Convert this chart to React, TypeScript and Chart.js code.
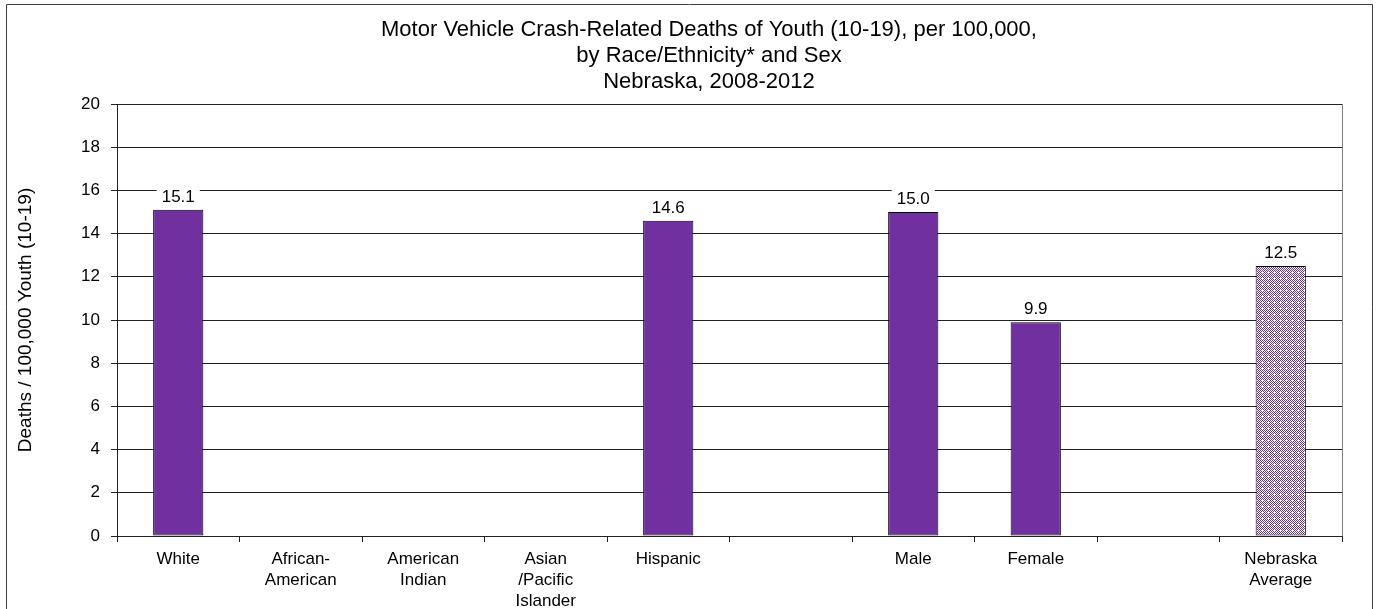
import React, { useEffect, useRef } from "react";
import { Chart, registerables } from "chart.js";

Chart.register(...registerables);

const categories: (string | string[])[] = [
  "White",
  ["African-", "American"],
  ["American", "Indian"],
  ["Asian", "/Pacific", "Islander"],
  "Hispanic",
  "",
  "Male",
  "Female",
  "",
  ["Nebraska", "Average"],
];
const values: (number | null)[] = [15.1, null, null, null, 14.6, null, 15.0, 9.9, null, 12.5];
const averageIndex = 9;
const yTicks = { min: 0, max: 20, step: 2 };
const titleLines = [
  "Motor Vehicle Crash-Related Deaths of Youth (10-19), per 100,000,",
  "by Race/Ethnicity* and Sex",
  "Nebraska, 2008-2012",
];
const yTitle = "Deaths / 100,000 Youth (10-19)";

const PURPLE = "#7030A0";
const FONT = "'Liberation Sans', Arial, sans-serif";

function makePattern(ctx: CanvasRenderingContext2D): CanvasPattern | string {
  const c = document.createElement("canvas");
  c.width = 6;
  c.height = 6;
  const p = c.getContext("2d");
  if (!p) return PURPLE;
  p.fillStyle = "#ffffff";
  p.fillRect(0, 0, 6, 6);
  p.fillStyle = PURPLE;
  for (let y = 0; y < 6; y++) {
    for (let x = 0; x < 6; x++) {
      if ((x + y) % 2 === 0) p.fillRect(x, y, 1, 1);
    }
  }
  p.fillStyle = "#ffffff";
  p.fillRect(2, 2, 1, 1);
  const pat = ctx.createPattern(c, "repeat");
  return pat || PURPLE;
}

const titlePlugin = {
  id: "customTitle",
  afterDraw(chart: any) {
    const ctx = chart.ctx;
    ctx.save();
    ctx.font = `22px ${FONT}`;
    ctx.fillStyle = "#000000";
    ctx.textAlign = "center";
    ctx.textBaseline = "alphabetic";
    const cx = 709;
    titleLines.forEach((line, i) => {
      ctx.fillText(line, cx, 36 + i * 26);
    });
    ctx.restore();
  },
};

const labelPlugin = {
  id: "valueLabels",
  afterDatasetsDraw(chart: any) {
    const ctx = chart.ctx;
    const meta = chart.getDatasetMeta(0);
    ctx.save();
    ctx.font = `17px ${FONT}`;
    ctx.textAlign = "center";
    ctx.textBaseline = "alphabetic";
    meta.data.forEach((el: any, i: number) => {
      const v = values[i];
      if (v === null || v === undefined) return;
      const txt = v.toFixed(1);
      const w = ctx.measureText(txt).width;
      const by = el.y - 8;
      ctx.fillStyle = "#ffffff";
      ctx.fillRect(el.x - w / 2 - 5, by - 16, w + 10, 19);
      ctx.fillStyle = "#000000";
      ctx.fillText(txt, el.x, by);
    });
    ctx.restore();
  },
};

const framePlugin = {
  id: "frame",
  afterDraw(chart: any) {
    const ctx = chart.ctx;
    const a = chart.chartArea;
    ctx.save();
    ctx.lineWidth = 1;
    ctx.strokeStyle = "#808080";
    ctx.beginPath();
    ctx.moveTo(Math.round(a.right) + 0.5, a.top);
    ctx.lineTo(Math.round(a.right) + 0.5, a.bottom);
    ctx.stroke();
    ctx.strokeStyle = "#404040";
    ctx.beginPath();
    ctx.moveTo(6.5, chart.height + 2);
    ctx.lineTo(6.5, 4.5);
    ctx.lineTo(chart.width - 3.5, 4.5);
    ctx.lineTo(chart.width - 3.5, chart.height + 2);
    ctx.stroke();
    ctx.restore();
  },
};

export default function App() {
  const ref = useRef<HTMLCanvasElement | null>(null);

  useEffect(() => {
    const canvas = ref.current;
    if (!canvas) return;
    const ctx = canvas.getContext("2d");
    if (!ctx) return;
    const pattern = makePattern(ctx);
    const colors = values.map((_, i) => (i === averageIndex ? pattern : PURPLE));

    const chart = new Chart(ctx, {
      type: "bar",
      data: {
        labels: categories as any,
        datasets: [
          {
            data: values as any,
            backgroundColor: colors as any,
            borderColor: "#000000",
            borderWidth: 1,
            borderSkipped: false,
            barPercentage: 0.41,
            categoryPercentage: 1,
          },
        ],
      },
      options: {
        animation: false,
        responsive: false,
        layout: { padding: { left: 10, right: 34, top: 104, bottom: 0 } },
        plugins: {
          legend: { display: false },
          tooltip: { enabled: false },
          title: { display: false },
        },
        scales: {
          x: {
            grid: {
              display: true,
              drawOnChartArea: false,
              drawTicks: true,
              tickLength: 6,
              color: "#222222",
              offset: true,
            },
            border: { display: true, color: "#222222" },
            ticks: {
              color: "#000000",
              font: { family: FONT, size: 17, lineHeight: 1.22 },
              padding: 7,
              maxRotation: 0,
              autoSkip: false,
            },
            afterFit: (s: any) => {
              s.height = 73;
            },
          },
          y: {
            min: yTicks.min,
            max: yTicks.max,
            ticks: {
              stepSize: yTicks.step,
              color: "#000000",
              font: { family: FONT, size: 17 },
              padding: 11,
            },
            grid: { color: "#222222", tickLength: 6 },
            border: { display: true, color: "#222222" },
            title: {
              display: true,
              text: yTitle,
              color: "#000000",
              font: { family: FONT, size: 19, lineHeight: 1.2 },
              padding: { top: 4, bottom: 4 },
            },
            afterFit: (s: any) => {
              s.width = 107;
            },
          },
        },
      },
      plugins: [labelPlugin, framePlugin, titlePlugin],
    });
    return () => chart.destroy();
  }, []);

  return (
    <div style={{ position: "fixed", left: 0, top: 0, width: 1376, height: 609, background: "#fff" }}>
      <canvas ref={ref} width={1376} height={609} style={{ display: "block" }} />
    </div>
  );
}
